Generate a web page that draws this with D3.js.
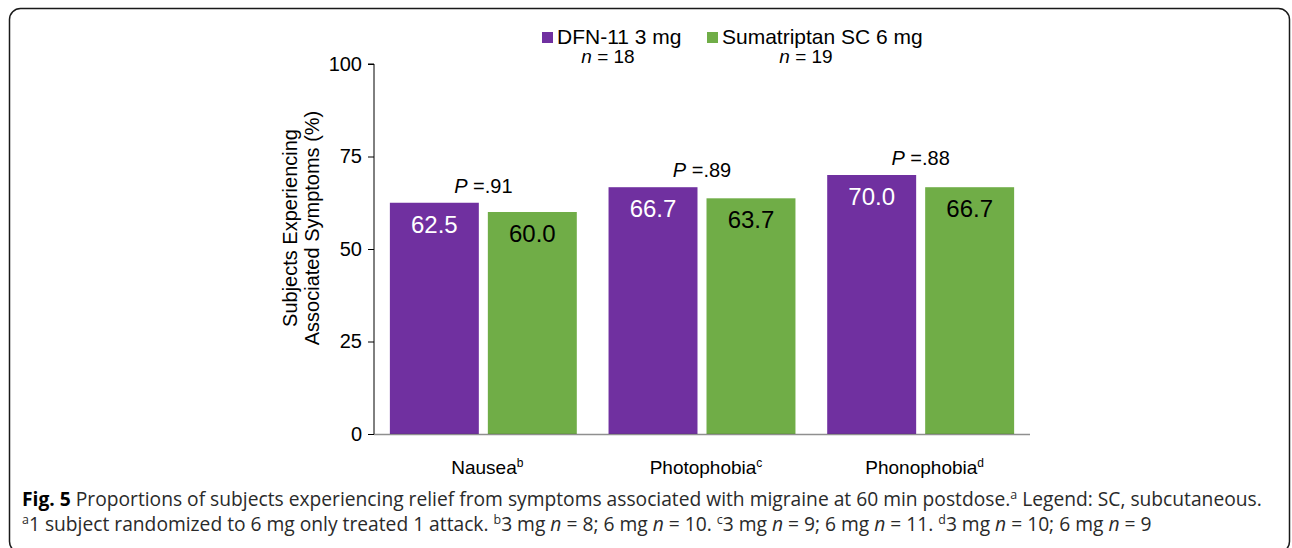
<!DOCTYPE html>
<html>
<head>
<meta charset="utf-8">
<script src="https://cdn.jsdelivr.net/npm/d3@7"></script>
<style>
  html, body { margin: 0; padding: 0; background: #fff; }
  svg { display: block; }
  .main text, text.main { font-family: "Liberation Sans", Arial, Helvetica, sans-serif; }
  text.cap { font-family: "Open Sans", "Noto Sans", sans-serif; }
</style>
</head>
<body>
<svg id="chart" width="1292" height="548"></svg>
<script>
// ---- data ----
const categories = ["Nausea", "Photophobia", "Phonophobia"];
const categorySup = ["b", "c", "d"];
const seriesNames = ["DFN-11 3 mg", "Sumatriptan SC 6 mg"];
const seriesN = ["18", "19"];
const dfnValues = [62.5, 66.7, 70.0];
const sumaValues = [60.0, 63.7, 66.7];
const pValues = [".91", ".89", ".88"];
const yTicks = [0, 25, 50, 75, 100];
const yTitle = ["Subjects Experiencing", "Associated Symptoms (%)"];
const colors = ["#7030A0", "#70AD47"];

const svg = d3.select("#chart");

// frame
svg.append("rect")
  .attr("x", 9.5).attr("y", 8.5)
  .attr("width", 1280).attr("height", 544)
  .attr("rx", 11).attr("ry", 11)
  .attr("fill", "none").attr("stroke", "#1a1a1a").attr("stroke-width", 1.5);

const main = svg.append("g").attr("class", "main");

const x0 = 374, x1 = 1030, yTop = 64, yBot = 434;
const x = d3.scaleBand().domain(categories).range([x0, x1]).paddingInner(0).paddingOuter(0);
const xs = d3.scaleBand().domain([0, 1]).range([0, x.bandwidth()]).paddingInner(0.092).paddingOuter(0.162);
const y = d3.scaleLinear().domain([0, 100]).range([yBot, yTop]);

const rows = categories.map((c, i) => ({ cat: c, sup: categorySup[i], vals: [dfnValues[i], sumaValues[i]], p: pValues[i] }));

// bars
const g = main.append("g");
rows.forEach(r => {
  r.vals.forEach((v, j) => {
    const bx = x(r.cat) + xs(j);
    g.append("rect")
      .attr("x", bx).attr("y", y(v))
      .attr("width", xs.bandwidth()).attr("height", y(0) - y(v))
      .attr("fill", colors[j]);
    g.append("text")
      .attr("x", bx + xs.bandwidth() / 2).attr("y", y(v) + 30)
      .attr("text-anchor", "middle")
      .attr("font-size", 24)
      .attr("fill", j === 0 ? "#fff" : "#000")
      .text(v.toFixed(1));
  });
  const maxV = d3.max(r.vals);
  const pt = g.append("text")
    .attr("x", x(r.cat) + x.bandwidth() / 2).attr("y", y(maxV) - 10)
    .attr("text-anchor", "middle").attr("font-size", 20).attr("fill", "#000");
  pt.append("tspan").attr("font-style", "italic").text("P");
  pt.append("tspan").text(" =" + r.p);
});

// y axis
const yAxis = d3.axisLeft(y).tickValues(yTicks).tickSize(6).tickPadding(6).tickFormat(d3.format("d"));
const ya = main.append("g").attr("transform", `translate(${x0},0)`).call(yAxis);
ya.attr("font-family", null);
ya.select(".domain").attr("stroke", "#000").attr("stroke-width", 1).attr("d", `M-6,${yTop}H0V${yBot}`);
ya.selectAll(".tick line").attr("stroke", "#000");
ya.selectAll(".tick text").attr("font-size", 20).attr("fill", "#000");

// x axis line
main.append("line")
  .attr("x1", x0).attr("x2", x1).attr("y1", yBot + 0.5).attr("y2", yBot + 0.5)
  .attr("stroke", "#444").attr("stroke-opacity", 0.6).attr("stroke-width", 1.5);

// x labels
rows.forEach(r => {
  const t = main.append("text")
    .attr("x", x(r.cat) + x.bandwidth() / 2 + 4).attr("y", 474)
    .attr("text-anchor", "middle").attr("font-size", 19).attr("fill", "#000");
  t.append("tspan").text(r.cat);
  t.append("tspan").attr("font-size", 12).attr("dy", -7).text(r.sup);
});

// y title
const yt = main.append("text")
  .attr("transform", "translate(297,228) rotate(-90)")
  .attr("text-anchor", "middle").attr("font-size", 20).attr("fill", "#000");
yTitle.forEach((l, i) => {
  yt.append("tspan").attr("x", 0).attr("dy", i === 0 ? 0 : 22).text(l);
});

// legend
const legX = [542, 707];
const nX = [608, 806];
seriesNames.forEach((s, i) => {
  main.append("rect").attr("x", legX[i]).attr("y", 32).attr("width", 11).attr("height", 11).attr("fill", colors[i]);
  main.append("text").attr("x", legX[i] + 15).attr("y", 44).attr("font-size", 21).attr("fill", "#000").text(s);
  const nt = main.append("text").attr("x", nX[i]).attr("y", 63).attr("text-anchor", "middle")
    .attr("font-size", 19).attr("fill", "#000");
  nt.append("tspan").attr("font-style", "italic").text("n");
  nt.append("tspan").text(" = " + seriesN[i]);
});

// caption
const cap1 = svg.append("text").attr("class", "cap").attr("x", 22).attr("y", 506).attr("font-size", 17)
  .attr("fill", "#2a2a2a");
cap1.append("tspan").attr("font-weight", "bold").attr("fill", "#000").text("Fig. 5");
cap1.append("tspan").text(" Proportions of subjects experiencing relief from symptoms associated with migraine at 60 min postdose.");
cap1.append("tspan").attr("font-size", 11).attr("dy", -6).text("a");
cap1.append("tspan").attr("dy", 6).text(" Legend: SC, subcutaneous.");

const cap2 = svg.append("text").attr("class", "cap").attr("x", 22).attr("y", 531).attr("font-size", 17)
  .attr("fill", "#2a2a2a");
function sup(t, s) { t.append("tspan").attr("font-size", 11).attr("dy", -6).text(s); }
function txt(t, s, after) { t.append("tspan").attr("dy", after ? 6 : 0).text(s); }
function it(t, s) { t.append("tspan").attr("font-style", "italic").text(s); }
sup(cap2, "a"); txt(cap2, "1 subject randomized to 6 mg only treated 1 attack. ", true);
sup(cap2, "b"); txt(cap2, "3 mg ", true); it(cap2, "n"); txt(cap2, " = 8; 6 mg "); it(cap2, "n"); txt(cap2, " = 10. ");
sup(cap2, "c"); txt(cap2, "3 mg ", true); it(cap2, "n"); txt(cap2, " = 9; 6 mg "); it(cap2, "n"); txt(cap2, " = 11. ");
sup(cap2, "d"); txt(cap2, "3 mg ", true); it(cap2, "n"); txt(cap2, " = 10; 6 mg "); it(cap2, "n"); txt(cap2, " = 9");

// fit caption widths to reference
const w1 = cap1.node().getComputedTextLength();
const k = 1241 / w1;
[cap1, cap2].forEach(c => {
  c.attr("font-size", 17 * k);
  c.selectAll("tspan").each(function () {
    const s = d3.select(this);
    const fs = s.attr("font-size");
    if (fs) s.attr("font-size", +fs * k);
    const dy = s.attr("dy");
    if (dy) s.attr("dy", +dy * k);
  });
});
</script>
</body>
</html>
